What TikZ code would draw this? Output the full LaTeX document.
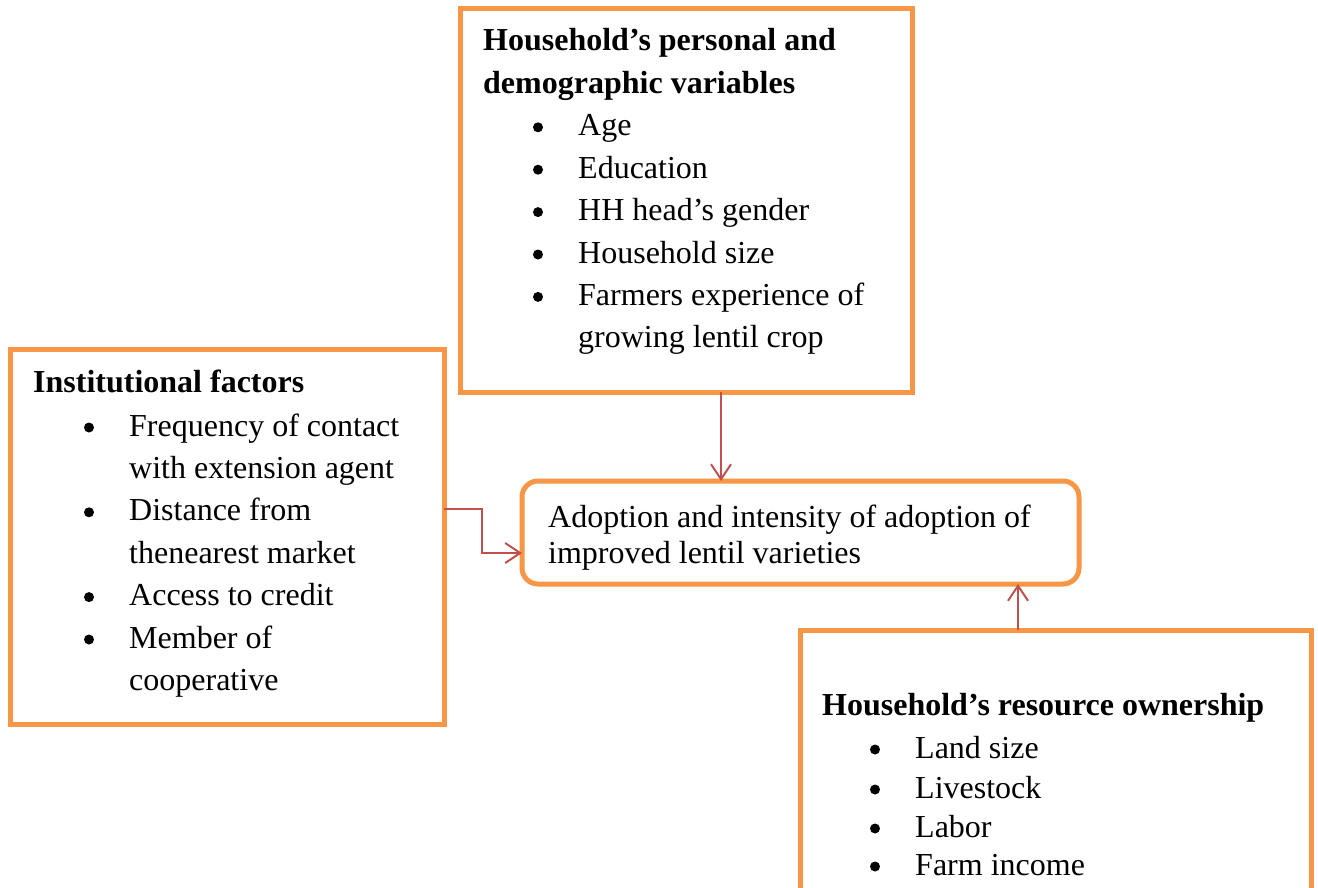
\documentclass[tikz,border=0pt]{standalone}
\usepackage{fontspec}
\setmainfont{Liberation Serif}
\usetikzlibrary{arrows.meta,calc}
\definecolor{boxorange}{HTML}{F79646}
\definecolor{arrred}{HTML}{C0504D}
\begin{document}
\begin{tikzpicture}[x=1pt,y=-1pt,
  frame/.style={draw=boxorange,line width=5pt,inner sep=0pt,outer sep=0pt,anchor=north west},
  txt/.style={anchor=base west,inner sep=0pt,font=\fontsize{32}{38}\selectfont},
  hd/.style={txt,font=\fontsize{32}{38}\selectfont\bfseries},
  dot/.style={circle,fill=black,inner sep=0pt,minimum size=10pt,yshift=8.5pt},
  arr/.style={draw=arrred,line width=2pt,-{Straight Barb[length=15pt,width=20pt]}}]
\clip (0,0) rectangle (1318,888);
\fill[white] (0,0) rectangle (1318,888);
% boxes
\node[frame,minimum width=452pt,minimum height=383pt] (pers) at (460,9) {};
\node[frame,minimum width=434pt,minimum height=375pt] (inst) at (10,349) {};
\node[frame,minimum width=557pt,minimum height=103pt,rounded corners=16pt] (ado) at (522,481) {};
\node[frame,minimum width=511pt,minimum height=290pt] (res) at (800,630) {};
% personal box text
\node[hd] (p1) at (483,51) {Household’s personal and};
\node[hd] (p2) at (483,93.4) {demographic variables};
\node[dot] (pb1) at (538,135.8) {}; \node[txt] (pt1) at (578,135.8) {Age};
\node[dot] (pb2) at (538,178.2) {}; \node[txt] (pt2) at (578,178.2) {Education};
\node[dot] (pb3) at (538,220.6) {}; \node[txt] (pt3) at (578,220.6) {HH head’s gender};
\node[dot] (pb4) at (538,263) {}; \node[txt] (pt4) at (578,263) {Household size};
\node[dot] (pb5) at (538,305.4) {}; \node[txt] (pt5) at (578,305.4) {Farmers experience of};
\node[txt] (pt6) at (578,347.8) {growing lentil crop};
% institutional box text
\node[hd] (i1) at (33,392) {Institutional factors};
\node[dot] (ib1) at (89,436) {}; \node[txt] (it1) at (129,436) {Frequency of contact};
\node[txt] (it2) at (129,478.4) {with extension agent};
\node[dot] (ib2) at (89,520.8) {}; \node[txt] (it3) at (129,520.8) {Distance from};
\node[txt] (it4) at (129,563.2) {thenearest market};
\node[dot] (ib3) at (89,605.6) {}; \node[txt] (it5) at (129,605.6) {Access to credit};
\node[dot] (ib4) at (89,648) {}; \node[txt] (it6) at (129,648) {Member of};
\node[txt] (it7) at (129,690.4) {cooperative};
% adoption text
\node[txt] (a1) at (548,527) {Adoption and intensity of adoption of};
\node[txt] (a2) at (548,563) {improved lentil varieties};
% resource box text
\node[hd] (r1) at (822,715) {Household’s resource ownership};
\node[dot] (rb1) at (875,758) {}; \node[txt] (rt1) at (915,758) {Land size};
\node[dot] (rb2) at (875,798) {}; \node[txt] (rt2) at (915,798) {Livestock};
\node[dot] (rb3) at (875,837) {}; \node[txt] (rt3) at (915,837) {Labor};
\node[dot] (rb4) at (875,875) {}; \node[txt] (rt4) at (915,875) {Farm income};
% arrows
\draw[arr] ([xshift=35pt]pers.south) -- ([xshift=35pt]pers.south |- ado.north);
\draw[arr] ([yshift=27.5pt]inst.east) -- ++(38,0) |- ([yshift=-20.5pt]ado.west);
\draw[arr] ([xshift=-37.5pt]res.north) -- ([xshift=-37.5pt]res.north |- ado.south);
\end{tikzpicture}
\end{document}
